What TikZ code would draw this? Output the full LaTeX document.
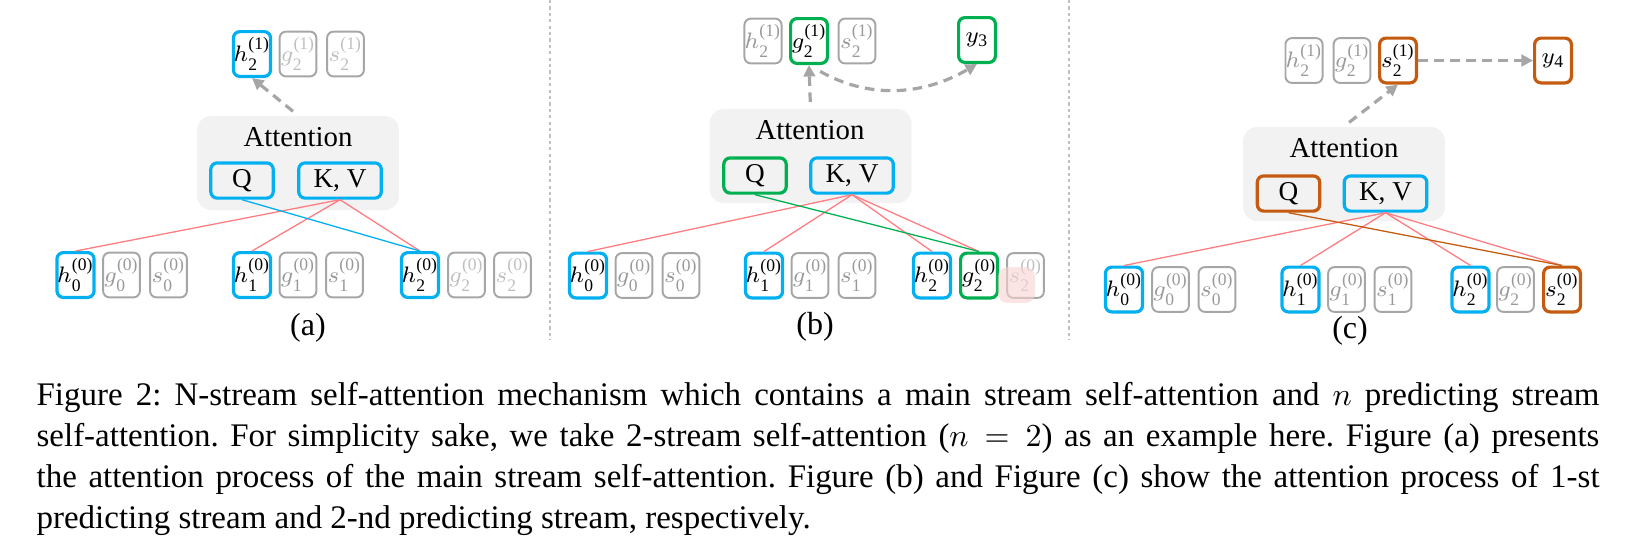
\documentclass[tikz,border=0pt]{standalone}
\usepackage{fontspec}
\setmainfont{Liberation Serif}
\definecolor{nsBlue}{HTML}{00B0F0}
\definecolor{nsGreen}{HTML}{00B050}
\definecolor{nsOrange}{HTML}{C55A11}
\definecolor{nsGray}{HTML}{A6A6A6}
\definecolor{nsText}{HTML}{999999}
\definecolor{nsPale}{HTML}{BFBFBF}
\definecolor{nsRed}{HTML}{FF7C80}
\definecolor{nsFill}{HTML}{F2F2F2}
\definecolor{nsPink}{HTML}{F9D2D2}
\usetikzlibrary{arrows.meta}
\newcommand{\scriptfnt}{\fontsize{5.5}{6}\selectfont}
\newcommand{\tokm}[3]{$#1_{\mbox{\scriptfnt#2}}^{\mbox{\scriptfnt(#3)}}$}
\newcommand{\outm}[2]{$#1_{\mbox{\scriptfnt#2}}$}

\begin{document}
\begin{tikzpicture}[x=0.3125pt, y=-0.3125pt,
  tok/.style={draw=nsGray, line width=0.6pt, rounded corners=2pt, text=nsText,
    minimum width=11.5pt, minimum height=14pt, inner sep=0pt, font=\fontsize{7.5}{8}\selectfont},
  hot/.style={line width=1pt, text=black},
  pale/.style={text=nsPale},
  attbox/.style={fill=nsFill, rounded corners=4.5pt, minimum width=63.1pt, minimum height=29.4pt},
  attlabel/.style={font=\fontsize{9}{10}\selectfont},
  qkv/.style={line width=1pt, rounded corners=2pt, minimum height=11pt, inner sep=0pt,
    font=\fontsize{8.5}{9}\selectfont},
  arr/.style={-{Triangle[length=3.6pt, width=3.6pt]}, line width=1pt, draw=nsGray,
    dash pattern=on 3pt off 2pt, shorten <=2pt},
  redl/.style={draw=nsRed, line width=0.4pt},
  sub/.style={font=\fontsize{10}{12}\selectfont}
]
  \useasboundingbox (0,0) rectangle (1636,545);

  % panel separators
  \draw[nsPale, line width=0.4pt, dash pattern=on 1pt off 1pt] (550,0) -- (550,340);
  \draw[nsPale, line width=0.4pt, dash pattern=on 1pt off 1pt] (1069,0) -- (1069,340);

  % (a) main stream
  \node[attbox] (attA) at (298,163) {};
  \node[attlabel] (attAtxt) at (298,137) {Attention};
  \node[qkv, draw=nsBlue, minimum width=19.5pt] (qA) at (242,180.5) {Q};
  \node[qkv, draw=nsBlue, minimum width=25.8pt] (kvA) at (340,180.5) {K, V};
  \node[tok, hot, draw=nsBlue] (h21a) at (252,54) {\tokm{h}{2}{1}};
  \node[tok, pale] (g21a) at (298,54) {\tokm{g}{2}{1}};
  \node[tok, pale] (s21a) at (345.5,54) {\tokm{s}{2}{1}};
  \node[tok, hot, draw=nsBlue] (h0a) at (75.5,275) {\tokm{h}{0}{0}};
  \node[tok] (g0a) at (121.5,275) {\tokm{g}{0}{0}};
  \node[tok] (s0a) at (168.5,275) {\tokm{s}{0}{0}};
  \node[tok, hot, draw=nsBlue] (h1a) at (252,275) {\tokm{h}{1}{0}};
  \node[tok] (g1a) at (298,275) {\tokm{g}{1}{0}};
  \node[tok] (s1a) at (344.5,275) {\tokm{s}{1}{0}};
  \node[tok, hot, draw=nsBlue] (h2a) at (420,275) {\tokm{h}{2}{0}};
  \node[tok, pale] (g2a) at (466.5,275) {\tokm{g}{2}{0}};
  \node[tok, pale] (s2a) at (512.5,275) {\tokm{s}{2}{0}};
  \draw[redl] (kvA.south) -- (h0a.north);
  \draw[redl] (kvA.south) -- (h1a.north);
  \draw[redl] (kvA.south) -- (h2a.north);
  \draw[line width=0.4pt, nsBlue] (qA.south) -- (h2a.north);
  \draw[arr] (attA.north) -- (h21a.south);
  \node[sub] (labA) at (308,328) {(a)};

  % (b) 1-st predicting stream
  \node[attbox] (attB) at (810.5,156) {};
  \node[attlabel] (attBtxt) at (810,130) {Attention};
  \node[qkv, draw=nsGreen, minimum width=19.5pt] (qB) at (755,175.5) {Q};
  \node[qkv, draw=nsBlue, minimum width=25.8pt] (kvB) at (852,175.5) {K, V};
  \node[tok] (h21b) at (763,41) {\tokm{h}{2}{1}};
  \node[tok, hot, draw=nsGreen] (g21b) at (809,41) {\tokm{g}{2}{1}};
  \node[tok] (s21b) at (857,41) {\tokm{s}{2}{1}};
  \node[tok, hot, draw=nsGreen] (y3) at (977,40) {\outm{y}{3}};
  \node[tok, hot, draw=nsBlue] (h0b) at (588,275.5) {\tokm{h}{0}{0}};
  \node[tok] (g0b) at (634,275.5) {\tokm{g}{0}{0}};
  \node[tok] (s0b) at (681,275.5) {\tokm{s}{0}{0}};
  \node[tok, hot, draw=nsBlue] (h1b) at (764,275.5) {\tokm{h}{1}{0}};
  \node[tok] (g1b) at (810,275.5) {\tokm{g}{1}{0}};
  \node[tok] (s1b) at (857,275.5) {\tokm{s}{1}{0}};
  \node[tok, hot, draw=nsBlue] (h2b) at (932,275.5) {\tokm{h}{2}{0}};
  \node[tok, hot, draw=nsGreen] (g2b) at (979,275.5) {\tokm{g}{2}{0}};
  \node[tok, pale] (s2b) at (1025.5,275.5) {\tokm{s}{2}{0}};
  \node[fill=nsPink, opacity=0.6, rounded corners=3pt, minimum width=11.6pt,
    minimum height=11.2pt, inner sep=0pt] (maskB) at (1016.5,285) {};
  \draw[redl] (kvB.south) -- (h0b.north);
  \draw[redl] (kvB.south) -- (h1b.north);
  \draw[redl] (kvB.south) -- (h2b.north);
  \draw[redl] (kvB.south) -- (g2b.north);
  \draw[line width=0.4pt, nsGreen] (qB.south) -- (g2b.north);
  \draw[arr] (attB.north) -- (g21b.south);
  \draw[arr, shorten <=4pt] (g21b.south) to[bend right=30] (y3.south);
  \node[sub] (labB) at (815,327) {(b)};

  % (c) 2-nd predicting stream
  \node[attbox] (attC) at (1344,174) {};
  \node[attlabel] (attCtxt) at (1344,148) {Attention};
  \node[qkv, draw=nsOrange, minimum width=19.5pt] (qC) at (1288.5,193.5) {Q};
  \node[qkv, draw=nsBlue, minimum width=25.8pt] (kvC) at (1385.5,193.5) {K, V};
  \node[tok] (h21c) at (1304,60.5) {\tokm{h}{2}{1}};
  \node[tok] (g21c) at (1352,60.5) {\tokm{g}{2}{1}};
  \node[tok, hot, draw=nsOrange] (s21c) at (1398,60.5) {\tokm{s}{2}{1}};
  \node[tok, hot, draw=nsOrange] (y4) at (1553,60.5) {\outm{y}{4}};
  \node[tok, hot, draw=nsBlue] (h0c) at (1124,289.5) {\tokm{h}{0}{0}};
  \node[tok] (g0c) at (1170.5,289.5) {\tokm{g}{0}{0}};
  \node[tok] (s0c) at (1217,289.5) {\tokm{s}{0}{0}};
  \node[tok, hot, draw=nsBlue] (h1c) at (1300.5,289.5) {\tokm{h}{1}{0}};
  \node[tok] (g1c) at (1346.5,289.5) {\tokm{g}{1}{0}};
  \node[tok] (s1c) at (1393,289.5) {\tokm{s}{1}{0}};
  \node[tok, hot, draw=nsBlue] (h2c) at (1470.5,289.5) {\tokm{h}{2}{0}};
  \node[tok] (g2c) at (1515.5,289.5) {\tokm{g}{2}{0}};
  \node[tok, hot, draw=nsOrange] (s2c) at (1562,289.5) {\tokm{s}{2}{0}};
  \draw[redl] (kvC.south) -- (h0c.north);
  \draw[redl] (kvC.south) -- (h1c.north);
  \draw[redl] (kvC.south) -- (h2c.north);
  \draw[redl] (kvC.south) -- (s2c.north);
  \draw[line width=0.4pt, nsOrange] (qC.south) -- (s2c.north);
  \draw[arr] (attC.north) -- (s21c.south);
  \draw[arr, shorten <=0pt] (s21c.east) -- (y4.west);
  \node[sub] (labC) at (1350,331) {(c)};

  % caption
  \node[anchor=north west, inner sep=0pt, text width=488.4pt, align=justify,
    font=\fontsize{10.3}{12.8}\selectfont\frenchspacing] (caption) at (36,382) {%
    Figure 2: N-stream self-attention mechanism which contains a main stream self-attention and $n$ predicting stream\linebreak
    self-attention. For simplicity sake, we take 2-stream self-attention ($n=2$) as an example here. Figure (a) presents\linebreak
    the attention process of the main stream self-attention. Figure (b) and Figure (c) show the attention process of 1-st\linebreak
    predicting stream and 2-nd predicting stream, respectively.};
\end{tikzpicture}
\end{document}
